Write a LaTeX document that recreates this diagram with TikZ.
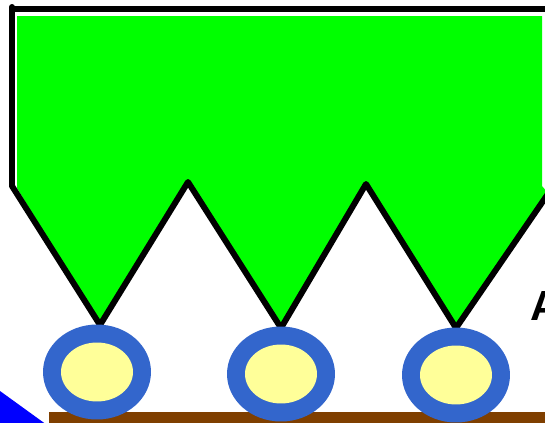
\documentclass[tikz,border=0pt]{standalone}
\usepackage{fontspec}
\setmainfont{Liberation Sans}
\usepackage{tikz}
\definecolor{hopgreen}{HTML}{00FF00}
\definecolor{ringblue}{HTML}{3366CC}
\definecolor{hubyellow}{HTML}{FFFF99}
\definecolor{railbrown}{HTML}{7F3F00}
\definecolor{wedgeblue}{HTML}{0000FF}

\begin{document}
\begin{tikzpicture}[x=0.02cm,y=-0.02cm,
  edge/.style={line width=3.4pt,line cap=round,line join=round},
  ring/.style={fill=ringblue},
  hub/.style={fill=hubyellow}]
  \useasboundingbox (0,0) rectangle (545,423);
  \clip (0,0) rectangle (545,423);
  \fill[white] (0,0) rectangle (545,423);
  % hopper
  \fill[hopgreen] (17,16) -- (542,16) -- (542,186) -- (547,192) -- (456,328) -- (366,184)
    -- (281,328) -- (188,182) -- (100,325) -- (17,188) -- cycle;
  \draw[edge] (12,7) -- (12,186) -- (100,325) -- (188,182) -- (281,328) -- (366,184)
    -- (456,328) -- (552,188);
  \draw[edge] (12,9) -- (552,9);
  % rail and wedge
  \fill[railbrown] (49,412) rectangle (550,430);
  \fill[wedgeblue] (0,391) -- (47,425) -- (0,425) -- cycle;
  % wheels
  \foreach \cx/\cy in {97/372,281/374,456/375} {
    \fill[ring] (\cx,\cy) ellipse [x radius=1.08cm,y radius=0.95cm];
    \fill[hub] (\cx,\cy) ellipse [x radius=0.72cm,y radius=0.59cm];
  }
  \node[anchor=base west,inner sep=0pt,font=\fontsize{24}{28}\selectfont\bfseries] (lbl) at (530,320) {A};
\end{tikzpicture}
\end{document}
